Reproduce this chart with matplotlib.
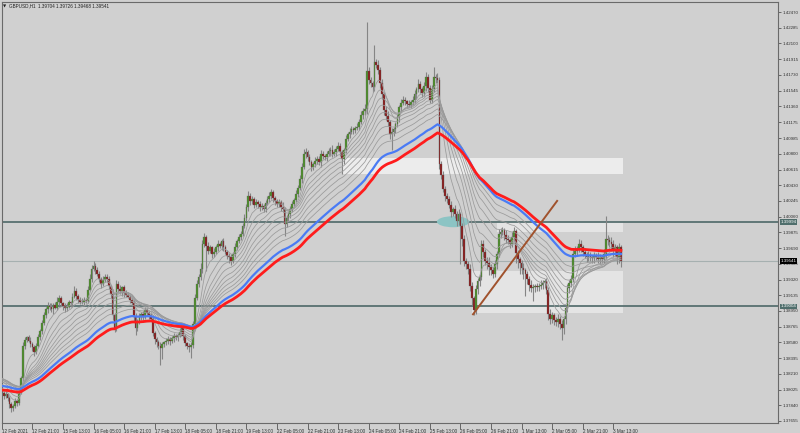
import numpy as np
import matplotlib
matplotlib.use("Agg")
import matplotlib.pyplot as plt
from matplotlib.patches import Rectangle, Ellipse

plt.rcParams["font.family"] = ["Liberation Sans", "DejaVu Sans"]

# ---------------- data ----------------
symbol_title = "GBPUSD,H1  1.39704 1.39726 1.39468 1.39541"
first_open = 1.38010
close = [
    1.37985, 1.37950, 1.37968, 1.37920, 1.37860, 1.37805, 1.37830, 1.37890, 1.37870, 1.37990,
    1.38160, 1.38540, 1.38610, 1.38640, 1.38600, 1.38560, 1.38520, 1.38470, 1.38540, 1.38640,
    1.38720, 1.38810, 1.38900, 1.38970, 1.39010, 1.39000, 1.38970, 1.39020, 1.38990, 1.39060,
    1.39100, 1.39040, 1.39010, 1.38980, 1.39000, 1.39050, 1.39040, 1.39120, 1.39190, 1.39130,
    1.39080, 1.39060, 1.39050, 1.39080, 1.39070, 1.39200, 1.39330, 1.39450, 1.39480, 1.39430,
    1.39390, 1.39330, 1.39270, 1.39310, 1.39350, 1.39330, 1.39240, 1.39150, 1.38900, 1.38750,
    1.39270, 1.39210, 1.39180, 1.39230, 1.39160, 1.39140, 1.39120, 1.39080, 1.39040, 1.38880,
    1.38750, 1.38830, 1.38890, 1.38920, 1.38880, 1.38960, 1.38930, 1.38900, 1.38860, 1.38690,
    1.38620, 1.38580, 1.38540, 1.38510, 1.38560, 1.38580, 1.38600, 1.38620, 1.38600, 1.38630,
    1.38650, 1.38640, 1.38670, 1.38700, 1.38750, 1.38650, 1.38570, 1.38540, 1.38520, 1.38550,
    1.38800, 1.39100, 1.39270, 1.39350, 1.39450, 1.39740, 1.39820, 1.39720, 1.39660, 1.39700,
    1.39620, 1.39650, 1.39700, 1.39740, 1.39720, 1.39770, 1.39700, 1.39650, 1.39600, 1.39580,
    1.39540, 1.39620, 1.39700, 1.39770, 1.39820, 1.39860, 1.39950, 1.40040, 1.40180, 1.40300,
    1.40240, 1.40270, 1.40200, 1.40230, 1.40210, 1.40170, 1.40190, 1.40150, 1.40220, 1.40270,
    1.40300, 1.40350, 1.40280, 1.40240, 1.40210, 1.40230, 1.40180, 1.40150, 1.39980, 1.40040,
    1.40090, 1.40150, 1.40210, 1.40260, 1.40330, 1.40400, 1.40500, 1.40650, 1.40800, 1.40820,
    1.40760, 1.40700, 1.40650, 1.40680, 1.40720, 1.40740, 1.40700, 1.40800, 1.40780, 1.40760,
    1.40800, 1.40830, 1.40850, 1.40800, 1.40820, 1.40860, 1.40890, 1.40820, 1.40740, 1.40850,
    1.40980, 1.41030, 1.41060, 1.41090, 1.41080, 1.41110, 1.41120, 1.41180, 1.41260, 1.41300,
    1.41330, 1.41770, 1.41670, 1.41630, 1.41590, 1.41880, 1.41850, 1.41790, 1.41640, 1.41500,
    1.41320, 1.41250, 1.41170, 1.41030, 1.41060, 1.41090, 1.41150, 1.41230, 1.41350, 1.41400,
    1.41440, 1.41420, 1.41390, 1.41380, 1.41410, 1.41440, 1.41500, 1.41560, 1.41620, 1.41560,
    1.41520, 1.41600, 1.41700, 1.41580, 1.41440, 1.41560, 1.41700, 1.41690, 1.41670, 1.40680,
    1.40550, 1.40390, 1.40300, 1.40270, 1.40200, 1.40120, 1.40150, 1.40090, 1.40010, 1.40090,
    1.39950, 1.39800, 1.39540, 1.39500, 1.39450, 1.39250, 1.39100, 1.38960, 1.39210, 1.39300,
    1.39350, 1.39740, 1.39650, 1.39540, 1.39520, 1.39470, 1.39430, 1.39390, 1.39500, 1.39620,
    1.39860, 1.39880, 1.39900, 1.39850, 1.39800, 1.39780, 1.39740, 1.39820, 1.39890, 1.39630,
    1.39560, 1.39510, 1.39460, 1.39430, 1.39380, 1.39330, 1.39260, 1.39220, 1.39230, 1.39240,
    1.39230, 1.39250, 1.39260, 1.39280, 1.39300, 1.39200, 1.38920, 1.38860, 1.38900, 1.38840,
    1.38820, 1.38860, 1.38800, 1.38750, 1.38850, 1.38980, 1.39220, 1.39280, 1.39330, 1.39620,
    1.39660, 1.39680, 1.39740, 1.39700, 1.39650, 1.39610, 1.39590, 1.39610, 1.39580, 1.39570,
    1.39600, 1.39590, 1.39560, 1.39580, 1.39560, 1.39620, 1.39800, 1.39780, 1.39760, 1.39740,
    1.39680, 1.39700, 1.39590, 1.39704, 1.39541,
]
# wick lengths in pips above / below the body
upper_wick_pips = [
    3, 2, 4, 2, 3, 2, 3, 4, 2, 5, 3, 4, 3, 2, 3, 4, 2, 3, 3, 4, 2, 3, 4, 3, 5,
    3, 4, 2, 3, 5, 4, 3, 2, 3, 4, 3, 2, 4, 5, 3, 2, 3, 4, 3, 2, 4, 5, 4, 6, 3,
    4, 3, 2, 5, 3, 4, 3, 2, 6, 3, 4, 3, 5, 2, 3, 4, 3, 2, 3, 4, 5, 3, 4, 2, 3,
    4, 3, 2, 3, 4, 3, 2, 3, 4, 3, 2, 3, 4, 2, 3, 4, 3, 2, 5, 3, 4, 3, 2, 3, 4,
    3, 5, 4, 3, 6, 4, 5, 3, 4, 3, 2, 4, 3, 4, 2, 3, 4, 3, 2, 3, 4, 3, 5, 3, 4,
    3, 4, 5, 3, 6, 4, 3, 2, 4, 3, 4, 3, 2, 4, 3, 5, 4, 3, 2, 3, 4, 3, 5, 3, 4,
    3, 4, 3, 2, 4, 3, 5, 4, 6, 5, 3, 4, 3, 2, 4, 3, 4, 5, 3, 2, 3, 4, 3, 5, 4,
    3, 5, 4, 3, 2, 4, 3, 5, 4, 3, 2, 4, 3, 5, 4, 6, 58, 5, 4, 3, 20, 4, 6, 3, 4,
    3, 4, 5, 3, 4, 3, 2, 4, 3, 5, 4, 3, 2, 4, 3, 4, 5, 3, 6, 4, 3, 5, 6, 4, 3,
    5, 12, 4, 6, 3, 4, 5, 3, 4, 3, 4, 3, 5, 4, 6, 3, 4, 5, 3, 4, 5, 4, 3, 5, 4,
    3, 5, 4, 3, 4, 6, 3, 4, 5, 4, 6, 5, 4, 3, 5, 4, 3, 6, 5, 3, 4, 3, 4, 5, 3,
    4, 3, 5, 4, 3, 4, 3, 5, 4, 3, 4, 3, 5, 4, 3, 4, 5, 3, 4, 3, 4, 5, 3, 4, 6,
    5, 4, 6, 4, 3, 4, 3, 5, 4, 3, 4, 3, 5, 4, 3, 6, 27, 5, 4, 6, 5, 4, 3, 5, 2.2,
]
lower_wick_pips = [
    3, 4, 2, 3, 5, 4, 3, 2, 4, 3, 2, 3, 4, 3, 2, 3, 4, 5, 3, 2, 3, 4, 2, 3, 4,
    4, 3, 5, 2, 3, 4, 3, 5, 4, 3, 2, 4, 3, 2, 5, 4, 3, 2, 4, 3, 3, 2, 4, 3, 5,
    3, 4, 5, 3, 2, 4, 3, 5, 6, 5, 3, 4, 3, 5, 4, 3, 2, 4, 3, 6, 8, 4, 3, 5, 4,
    3, 4, 5, 3, 4, 6, 5, 4, 20, 12, 4, 3, 4, 5, 3, 4, 3, 4, 3, 5, 4, 3, 4, 5, 12,
    4, 3, 2, 4, 3, 5, 4, 30, 4, 3, 5, 4, 3, 4, 3, 5, 4, 3, 4, 6, 5, 3, 4, 3, 2,
    4, 3, 2, 3, 5, 4, 3, 4, 3, 5, 4, 3, 4, 3, 2, 4, 3, 5, 4, 3, 4, 5, 3, 15, 4,
    3, 4, 3, 2, 3, 4, 3, 4, 3, 5, 4, 3, 5, 4, 3, 4, 3, 5, 4, 3, 4, 3, 5, 4, 3,
    4, 3, 5, 18, 6, 4, 3, 4, 3, 5, 4, 3, 4, 3, 5, 4, 6, 5, 4, 6, 5, 4, 5, 6, 5,
    6, 5, 4, 6, 18, 5, 4, 3, 5, 4, 3, 4, 5, 3, 4, 3, 4, 5, 3, 4, 5, 4, 6, 5, 4,
    4, 3, 5, 4, 6, 5, 4, 6, 5, 4, 6, 5, 4, 6, 5, 45, 8, 6, 5, 7, 6, 8, 6, 5, 6,
    5, 4, 6, 5, 8, 10, 6, 5, 4, 5, 4, 5, 4, 6, 5, 4, 5, 4, 5, 12, 10, 12, 8, 10, 25,
    6, 8, 5, 15, 6, 4, 5, 4, 5, 6, 5, 8, 6, 5, 6, 5, 6, 6, 14, 7, 5, 4, 6, 5, 4,
    4, 5, 4, 6, 5, 4, 6, 5, 4, 6, 5, 4, 5, 6, 5, 4, 6, 5, 6, 8, 10, 8, 9, 8, 7.3,
]
time_labels = [
    "12 Feb 2021", "12 Feb 21:00", "15 Feb 13:00", "16 Feb 05:00", "16 Feb 21:00",
    "17 Feb 13:00", "18 Feb 05:00", "18 Feb 21:00", "19 Feb 13:00", "22 Feb 05:00",
    "22 Feb 21:00", "23 Feb 13:00", "24 Feb 05:00", "24 Feb 21:00", "25 Feb 13:00",
    "26 Feb 05:00", "26 Feb 21:00", "1 Mar 13:00", "2 Mar 05:00", "2 Mar 21:00",
    "3 Mar 13:00",
]
bars_per_label = 16
price_ticks = [
    1.42470, 1.42285, 1.42100, 1.41915, 1.41730, 1.41545, 1.41360, 1.41175, 1.40985,
    1.40800, 1.40615, 1.40430, 1.40245, 1.40060, 1.39875, 1.39690, 1.39505, 1.39320,
    1.39135, 1.38950, 1.38765, 1.38580, 1.38395, 1.38210, 1.38025, 1.37840, 1.37655,
]
# moving averages: periods and their values at the first bar
gray_periods = [8, 13, 18, 23, 29, 35, 42, 50, 58]
gray_start = [1.38060, 1.38110, 1.38140, 1.38160, 1.38170, 1.38170,
              1.38160, 1.38140, 1.38115]
blue_period, blue_start = 72, 1.38070
red_period, red_start = 84, 1.38020
# horizontal levels
level_upper = 1.39994
level_lower = 1.39004
last_price = 1.39541
# zones: (first bar, last bar, low price, high price)
zones = [(178.6, 325.2, 1.40561, 1.40749, "#ececec"),
         (259.0, 325.2, 1.39882, 1.39994, "#e4e4e4"),
         (246.0, 325.2, 1.38922, 1.39426, "#e4e4e4")]
trend_from = (246.6, 1.38911)
trend_to = (290.6, 1.40246)
ellipse_center = (236.2, 1.40001)

# ---------------- figure ----------------
BG = "#d0d0d0"
W, H = 800, 433
fig = plt.figure(figsize=(W / 100, H / 100), dpi=100, facecolor=BG)
ax = fig.add_axes([1.5 / W, 10 / H, 777 / W, 421.5 / H])
ax.set_facecolor(BG)

n = len(close)
x = np.arange(n)
c = np.array(close)
o = np.concatenate([[first_open], c[:-1]])
hi = np.maximum(o, c) + np.array(upper_wick_pips) * 1e-4
lo = np.minimum(o, c) - np.array(lower_wick_pips) * 1e-4

px_per_bar = 1.911
x0 = -0.15
ax.set_xlim(x0, x0 + 777 / px_per_bar)
ax.set_ylim(1.37631, 1.42594)

for a, b, p0, p1, col in zones:
    ax.add_patch(Rectangle((a, p0), b - a, p1 - p0, facecolor=col,
                           edgecolor="none", zorder=0.5))

ax.axhline(level_upper, color="#587070", lw=1.3, zorder=1)
ax.axhline(level_lower, color="#587070", lw=1.3, zorder=1)
ax.axhline(last_price, color="#a6b0b0", lw=0.8, zorder=1)

ax.add_patch(Ellipse(ellipse_center, 17, 0.0013, facecolor="#8cc4c4",
                     edgecolor="none", zorder=1.2))

# candles
ax.vlines(x, lo, hi, color="#858585", lw=0.8, zorder=2)
up = c >= o
body = np.where(np.abs(c - o) < 0.00005, 0.00005, c - o)
ax.bar(x, body, bottom=o, width=0.9,
       color=np.where(up, "#4d8f2a", "#8a1c1c"),
       edgecolor="#606060", linewidth=0.2, zorder=2.2)


def ema(values, period, start):
    a = 2.0 / (period + 1)
    out, e = [], start
    for v in values:
        e = e + a * (v - e)
        out.append(e)
    return np.array(out)


for p, s in zip(gray_periods, gray_start):
    ax.plot(x, ema(c, p, s), color="#9a9a9a", lw=0.55, zorder=3)
ax.plot(x, ema(c, blue_period, blue_start), color="#4a7bf5", lw=1.6, zorder=3.2)
ax.plot(x, ema(c, red_period, red_start), color="#ff1c1c", lw=2.0, zorder=3.3)

ax.plot([trend_from[0], trend_to[0]], [trend_from[1], trend_to[1]],
        color="#a0522d", lw=1.4, zorder=4)

for side in ["top", "left", "right", "bottom"]:
    ax.spines[side].set_color("#6a6a6a")
    ax.spines[side].set_linewidth(0.8)

FS = 3.2
ax.yaxis.tick_right()
ax.set_yticks(price_ticks)
ax.set_yticklabels([f"{v:.5f}" for v in price_ticks])
ax.tick_params(axis="y", length=2.5, width=0.6, color="#555555", labelsize=FS,
               labelcolor="#303030", pad=0.8)

xt = [i * bars_per_label for i in range(len(time_labels))]
ax.set_xticks(xt)
ax.set_xticklabels(time_labels)
ax.tick_params(axis="x", length=4, width=0.6, color="#555555", labelsize=3.3,
               labelcolor="#303030", pad=0.3)
for lbl in ax.get_xticklabels():
    lbl.set_horizontalalignment("left")


def tag(val, bg):
    ax.text(1.0025, val, f"{val:.5f}", transform=ax.get_yaxis_transform(),
            fontsize=FS, color="white", va="center", ha="left", zorder=10,
            clip_on=False,
            bbox=dict(boxstyle="square,pad=0.2", facecolor=bg, edgecolor="none"))


tag(level_upper, "#4f6e6c")
tag(level_lower, "#4f6e6c")
tag(last_price, "#000000")

fig.text(3 / W, 1 - 6 / H, "\u25bc", fontsize=3.0, color="#202020", va="center",
         family="DejaVu Sans")
fig.text(9 / W, 1 - 6 / H, symbol_title, fontsize=3.3, color="#202020", va="center")

fig.savefig("out.png", dpi=100, facecolor=BG)
